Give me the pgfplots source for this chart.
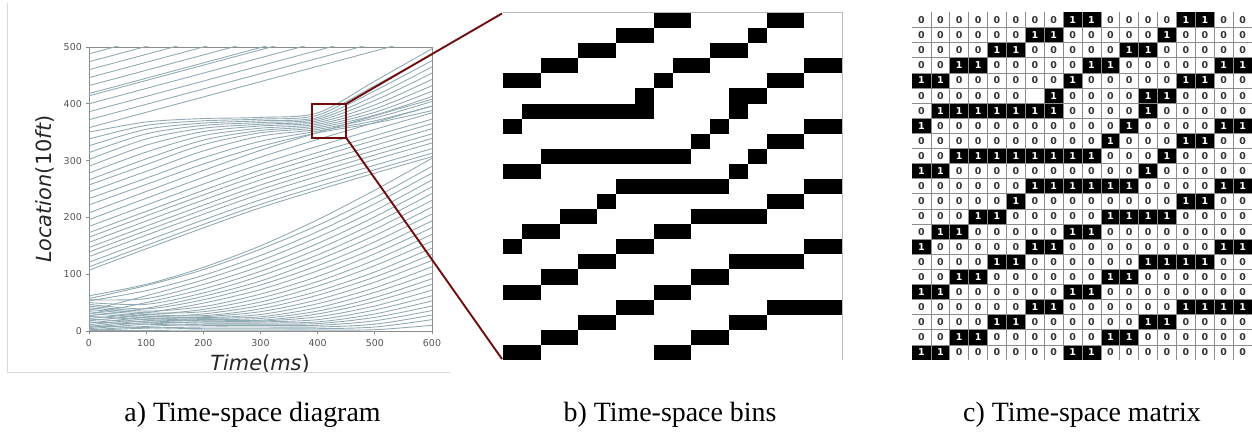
\documentclass[border=0pt]{standalone}
\usepackage{pgfplots}
\pgfplotsset{compat=1.18}
\usepackage{pgfplotstable}
\usepackage{fontspec}
\setmainfont{Liberation Serif}
\newfontfamily\dvs{DejaVu Sans}
\definecolor{trajc}{RGB}{146,171,179}
\definecolor{zred}{RGB}{112,14,14}
\definecolor{axgray}{RGB}{140,140,140}
\definecolor{tickgray}{RGB}{85,85,85}
\definecolor{cgrid}{RGB}{140,140,140}

\pgfdeclareplotmark{cellb}{\pgfpathrectangle{\pgfpoint{-9.417bp}{-7.544bp}}{\pgfpoint{18.833bp}{15.087bp}}\pgfusepathqfill}
\pgfdeclareplotmark{cellc}{\pgfpathrectangle{\pgfpoint{-9.444bp}{-7.554bp}}{\pgfpoint{18.889bp}{15.109bp}}\pgfusepathqfill}
\pgfdeclareplotmark{emptym}{}

\def\cellone{1}\def\cellzero{0}
\newcommand\cellnum{\edef\tmpa{\pgfplotspointmeta}\ifx\tmpa\cellone\textcolor{white}{1}\else\ifx\tmpa\cellzero\textcolor{black!80}{0}\fi\fi}

\pgfplotsset{traj/.style={no marks, smooth, draw=trajc, line width=0.9bp}}

% lower group (queue at the bottom)
\pgfplotstableread{
t g1 g2 g3 g4 g5 g6 g7 g8 g9 g10 g11 g12 g13 g14 g15 g16 g17 g18 g19 g20 g21 g22 g23 g24 g25 g26 g27 g28
0 62 57 53 36 55 30 50 27 47 22 44 18 41 14 38 11 34 8 31 6 26 4 21 2 16 1 9 0.5
100 82 80 71 62 57 50 47 40 39 32 35 28 32 24 29 21 26 18 23 15 20 12 16 8 12 5 6 1
200 112 108 98 90 82 74 67 61 55 49 43 38 34 30 27 25 23.5 22 20.5 19 17.5 16 14 12 10 7 4 1.5
300 150 144 133 124 114 105 97 88 81 73 65 58 51 45 39 34 29 25 22 19 17.5 16 14 12 10 7 4 1.5
400 196 186 175 165 154 144 134 125 115 106 96 87 79 70 63 55 48 41 35 30 25 20 16 13 10 7 4 1.5
500 248 235 224 212 201 190 179 168 157 146 136 125 115 104 95 86 76 68 59 52 44 37 30 24 18 12 7 2.3
600 304 290 278 266 254 242 230 218 206 194 182 170 158 146 135 124 113 102 92 82 72 62 53 44 36 28 20 10
}\G
% bundle group (converging near 360)
\pgfplotstableread{
t b1 b2 b3 b4 b5 b6 b7 b8 b9 b10 b11 b12
0 350 338 326 314 302 290 278 266 257 245 233 222
100 368 362 355 347 338 327 315 303 293 281 269 258
200 374 370 366 362 357 351 344 336 328 317 305 294
300 376 373 370 367 364 361 357 353 349 343 334 325
400 384 380 376 373 370 367 364 361 358 355 352 349
500 440 432 423 414 406 398 391 385 380 375 370 366
600 497 487 476 465 454 443 432 422 413 404 396 388
}\B
% lower part of upper group
\pgfplotstableread{
t l1 l2 l3 l4 l5 l6 l7 l8 l9 l10 l11 l12
0 107 113 121 131 139 147 156 165 173 184 196 208
300 217 223 231 241 249 257 266 275 283 294 306 318
600 307 313 321 331 339 347 356 365 373 384 396 408
}\L
% free-flow lines at the top
\pgfplotstableread{
t f1 f2 f3 f4 f5 f6 f7 f8 f9 f10 f11
0 358 372 386 400 414 418 432 446 460 474 488
600 520 534 548 562 576 580 594 608 622 636 650
}\F
% time-space matrix
\pgfplotstableread{
c1 c2 c3 c4 c5 c6 c7 c8 c9 c10 c11 c12 c13 c14 c15 c16 c17 c18
0 0 0 0 0 0 0 0 1 1 0 0 0 0 1 1 0 0
0 0 0 0 0 0 1 1 0 0 0 0 0 1 0 0 0 0
0 0 0 0 1 1 0 0 0 0 0 1 1 0 0 0 0 0
0 0 1 1 0 0 0 0 0 1 1 0 0 0 0 0 1 1
1 1 0 0 0 0 0 0 1 0 0 0 0 0 1 1 0 0
0 0 0 0 0 0 n 1 0 0 0 0 1 1 0 0 0 0
0 1 1 1 1 1 1 1 0 0 0 0 1 0 0 0 0 0
1 0 0 0 0 0 0 0 0 0 0 1 0 0 0 0 1 1
0 0 0 0 0 0 0 0 0 0 1 0 0 0 1 1 0 0
0 0 1 1 1 1 1 1 1 1 0 0 0 1 0 0 0 0
1 1 0 0 0 0 0 0 0 0 0 0 1 0 0 0 0 0
0 0 0 0 0 0 1 1 1 1 1 1 0 0 0 0 1 1
0 0 0 0 0 1 0 0 0 0 0 0 0 0 1 1 0 0
0 0 0 1 1 0 0 0 0 0 1 1 1 1 0 0 0 0
0 1 1 0 0 0 0 0 1 1 0 0 0 0 0 0 0 0
1 0 0 0 0 0 1 1 0 0 0 0 0 0 0 0 1 1
0 0 0 0 1 1 0 0 0 0 0 0 1 1 1 1 0 0
0 0 1 1 0 0 0 0 0 0 1 1 0 0 0 0 0 0
1 1 0 0 0 0 0 0 1 1 0 0 0 0 0 0 0 0
0 0 0 0 0 0 1 1 0 0 0 0 0 0 1 1 1 1
0 0 0 0 1 1 0 0 0 0 0 0 1 1 0 0 0 0
0 0 1 1 0 0 0 0 0 0 1 1 0 0 0 0 0 0
1 1 0 0 0 0 0 0 1 1 0 0 0 0 0 0 0 0
}\M

\begin{document}
\begin{tikzpicture}[x=1bp,y=1bp]
\path[use as bounding box] (0,0) rectangle (1252,435);

% frame of panel a
\draw[gray!30, line width=0.8bp] (7,432) -- (7,63) -- (450,63);

% ---------- panel a ----------
\begin{axis}[at={(89bp,104bp)}, anchor=south west, scale only axis,
  width=343bp, height=284bp,
  xmin=0, xmax=600, ymin=0, ymax=500,
  xtick={0,100,...,600}, ytick={0,100,...,500},
  xtick pos=lower, ytick pos=left,
  tick align=outside, major tick length=3.5bp,
  tick style={axgray, line width=0.8bp},
  axis line style={axgray, line width=0.9bp},
  /pgf/number format/assume math mode=true,
  tick label style={font=\dvs\fontsize{9.5}{11}\selectfont, text=tickgray},
  xticklabel style={anchor=north, inner sep=0pt, yshift=-5bp},
  yticklabel style={anchor=east, inner sep=0pt, xshift=-3.5bp},
]
\pgfplotsinvokeforeach{1,...,28}{\addplot[traj] table[x=t, y=g#1]{\G};}
\pgfplotsinvokeforeach{1,...,12}{\addplot[traj] table[x=t, y=b#1]{\B};}
\pgfplotsinvokeforeach{1,...,12}{\addplot[traj] table[x=t, y=l#1]{\L};}
\pgfplotsinvokeforeach{1,...,11}{\addplot[traj] table[x=t, y=f#1]{\F};}
\draw[zred, line width=1.9bp] (axis cs:390,340) rectangle (axis cs:450,400);
\coordinate (ztr) at (axis cs:450,400);
\coordinate (zbr) at (axis cs:450,340);
\end{axis}

\node[rotate=90, anchor=center, font=\dvs\fontsize{21}{24}\selectfont, text=black!85] at (45,246) {\textit{Location}(10\textit{ft})};
\begin{scope}
\clip (0,63) rectangle (460,110);
\node[anchor=base, font=\dvs\fontsize{21}{24}\selectfont, text=black!85] at (260,64.5) {\textit{Time}(\textit{ms})};
\end{scope}

% ---------- panel b ----------
\begin{axis}[at={(503bp,75bp)}, anchor=south west, scale only axis,
  width=339bp, height=347bp,
  xmin=0, xmax=18, ymin=0, ymax=23, ticks=none,
  axis line style={gray!55, line width=1bp}, axis on top]
\pgfplotsinvokeforeach{1,...,18}{
\addplot[scatter, only marks, mark=cellb, point meta=explicit symbolic,
  scatter/classes={0={white},1={black},n={white}}]
  table[x expr={#1-0.5}, y expr={22.5-\coordindex}, meta=c#1]{\M};
}
\end{axis}

% ---------- panel c ----------
\begin{axis}[at={(912bp,75bp)}, anchor=south west, scale only axis,
  width=340bp, height=347.5bp,
  xmin=0, xmax=18, ymin=0, ymax=23, ticks=none,
  axis line style={gray!45, line width=1bp}, axis on top]
\pgfplotsinvokeforeach{1,...,18}{
\addplot[scatter, only marks, mark=cellc, point meta=explicit symbolic,
  scatter/classes={0={white},1={black},n={white}}]
  table[x expr={#1-0.5}, y expr={22.5-\coordindex}, meta=c#1]{\M};
}
\end{axis}
% cell borders of the matrix
\begin{scope}[shift={(912,75)}]
\foreach \i in {1,...,17} {\draw[cgrid, line width=0.7bp] ({\i*340/18},0) -- ({\i*340/18},347.5);}
\foreach \j in {1,...,22} {\draw[cgrid, line width=0.7bp] (0,{\j*347.5/23}) -- (340,{\j*347.5/23});}
\end{scope}
\begin{axis}[at={(912bp,75bp)}, anchor=south west, scale only axis,
  width=340bp, height=347.5bp,
  xmin=0, xmax=18, ymin=0, ymax=23, hide axis]
\pgfplotsinvokeforeach{1,...,18}{
\addplot[only marks, mark=emptym, point meta=explicit symbolic,
  nodes near coords={\cellnum},
  every node near coord/.append style={anchor=center, inner sep=0pt,
     font=\dvs\bfseries\fontsize{9.5}{10}\selectfont}]
  table[x expr={#1-0.5}, y expr={22.5-\coordindex}, meta=c#1]{\M};
}
\end{axis}

% zoom connector lines
\draw[zred, line width=1.9bp] (ztr) -- (502,421.5);
\draw[zred, line width=1.9bp] (zbr) -- (502,76);

% captions
\node[anchor=base, font=\fontsize{28}{30}\selectfont] at (252.5,13) {a) Time-space diagram};
\node[anchor=base, font=\fontsize{28}{30}\selectfont] at (670,13) {b) Time-space bins};
\node[anchor=base, font=\fontsize{28}{30}\selectfont] at (1082,13) {c) Time-space matrix};
\end{tikzpicture}
\end{document}
